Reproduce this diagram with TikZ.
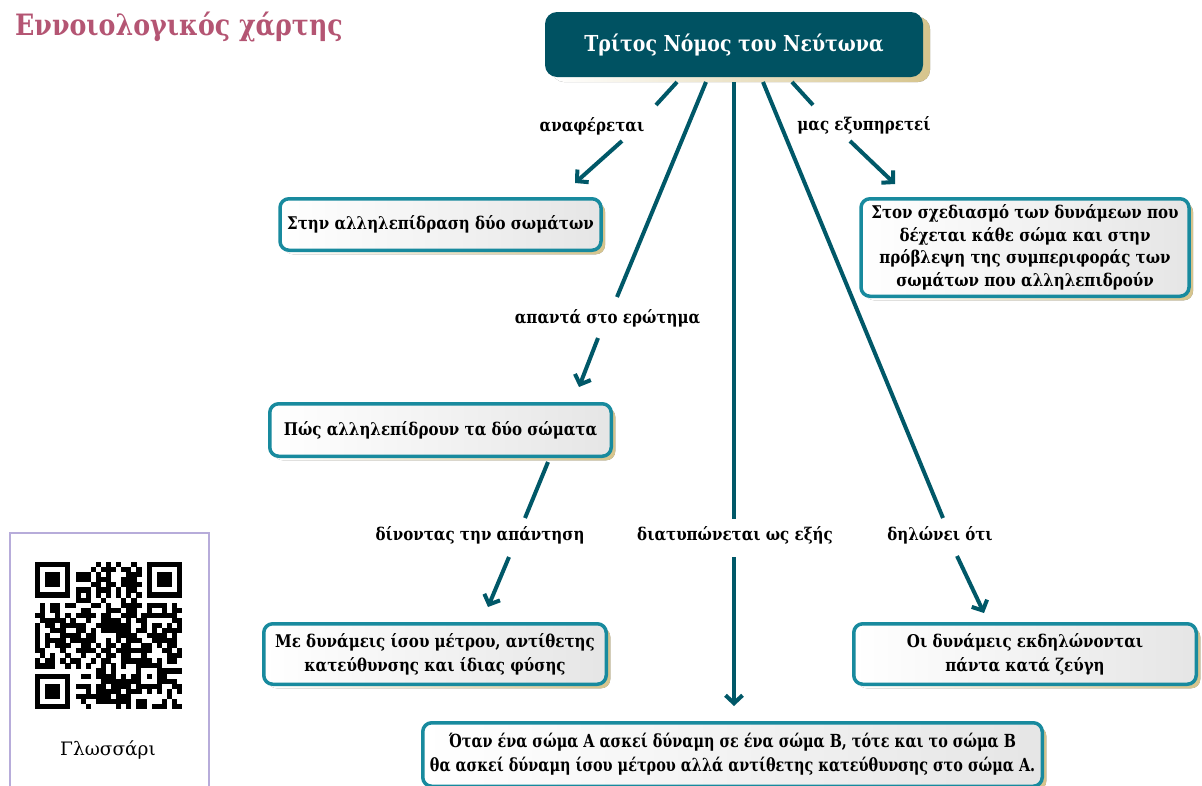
\documentclass[tikz,border=0pt]{standalone}
\usepackage{fontspec}
\setmainfont{DejaVu Serif}[FakeStretch=0.86]
\newfontfamily\plainfont{DejaVu Serif}
\newfontfamily\titlefont{DejaVu Serif}[FakeStretch=0.86]
\newfontfamily\condfont{DejaVu Serif}[FakeStretch=0.80]
\usetikzlibrary{arrows.meta,shadows}
\definecolor{topfill}{RGB}{0,82,98}
\definecolor{edgecol}{RGB}{0,88,104}
\definecolor{boxteal}{RGB}{24,138,158}
\definecolor{shadowgold}{RGB}{214,196,140}
\definecolor{titlepink}{RGB}{180,85,115}
\definecolor{lavender}{RGB}{183,172,218}
\begin{document}
\begin{tikzpicture}[x=1pt,y=-1pt,
  conbox/.style={rectangle, rounded corners=9pt, draw=boxteal, line width=3.5pt,
    left color=white, right color=black!10, align=center, inner sep=0pt,
    font=\bfseries\fontsize{17.5}{22.5}\selectfont,
    drop shadow={shadow xshift=4pt,shadow yshift=-4pt,opacity=1,left color=white,right color=shadowgold}},
  lab/.style={font=\bfseries\fontsize{17.5}{20}\selectfont, inner sep=1pt},
  link/.style={draw=edgecol, line width=4pt},
  linkarrow/.style={link, -{Straight Barb[length=8pt,width=17pt]}}
]
\useasboundingbox (0,0) rectangle (1202,785);
\clip (0,0) rectangle (1202,785);
\fill[white] (0,0) rectangle (1202,785);

% title
\node[anchor=base west, inner sep=0pt, text=titlepink, font=\titlefont\bfseries\fontsize{29.4}{33}\selectfont] (title) at (15,35) {Εννοιολογικός χάρτης};

% top node
\node[fill=topfill, rounded corners=12pt, minimum width=378pt, minimum height=65pt, inner sep=0pt,
  text=white, font=\bfseries\fontsize{22}{25}\selectfont,
  drop shadow={shadow xshift=7pt,shadow yshift=-5pt,opacity=1,left color=white,right color=shadowgold}]
  (top) at (734,44.5) {Τρίτος Νόμος του Νεύτωνα};

% boxes
\node[conbox, minimum width=321pt, minimum height=51.5pt] (b1) at (440.5,224.5) {Στην αλληλεπίδραση δύο σωμάτων};
\node[conbox, minimum width=328pt, minimum height=97.5pt] (b2) at (1025,247.5) {Στον σχεδιασμό των δυνάμεων που\\δέχεται κάθε σώμα και στην\\πρόβλεψη της συμπεριφοράς των\\σωμάτων που αλληλεπιδρούν};
\node[conbox, minimum width=341.5pt, minimum height=52.5pt] (b3) at (440.5,430) {Πώς αλληλεπίδρουν τα δύο σώματα};
\node[conbox, minimum width=342.5pt, minimum height=60.5pt, font=\bfseries\fontsize{17.5}{24}\selectfont] (b4) at (435,654) {Με δυνάμεις ίσου μέτρου, αντίθετης\\κατεύθυνσης και ίδιας φύσης};
\node[conbox, minimum width=342.5pt, minimum height=60.5pt, font=\bfseries\fontsize{17.5}{24}\selectfont] (b5) at (1025,654) {Οι δυνάμεις εκδηλώνονται\\πάντα κατά ζεύγη};
\node[conbox, minimum width=619.5pt, minimum height=63.5pt, font=\condfont\bfseries\fontsize{18}{24}\selectfont] (b6) at (732.5,754.5) {Όταν ένα σώμα Α ασκεί δύναμη σε ένα σώμα Β, τότε και το σώμα Β\\θα ασκεί δύναμη ίσου μέτρου αλλά αντίθετης κατεύθυνσης στο σώμα Α.};

% labels
\node[lab] (l1) at (592,126) {αναφέρεται};
\node[lab] (l2) at (607.5,318) {απαντά στο ερώτημα};
\node[lab] (l3) at (480,535) {δίνοντας την απάντηση};
\node[lab] (l4) at (735,535) {διατυπώνεται ως εξής};
\node[lab] (l5) at (940,535) {δηλώνει ότι};
\node[lab] (l6) at (864,125) {μας εξυπηρετεί};

% connector points
\coordinate (s1) at (677,82);  \coordinate (m1) at (656,105);
\coordinate (n1) at (622,141); \coordinate (t1) at (575,183);
\coordinate (s2) at (706,82);  \coordinate (m2) at (617,297);
\coordinate (n2) at (598,338); \coordinate (t2) at (579,387);
\coordinate (s3) at (548,462); \coordinate (m3) at (525,518);
\coordinate (n3) at (509,557); \coordinate (t3) at (488,607);
\coordinate (s4) at (734,82);  \coordinate (m4) at (734,519);
\coordinate (n4) at (734,557); \coordinate (t4) at (734,706);
\coordinate (s5) at (763,82);  \coordinate (m5) at (943,518);
\coordinate (n5) at (957,556); \coordinate (t5) at (984,613);
\coordinate (s6) at (792,82);  \coordinate (m6) at (813,105);
\coordinate (n6) at (850,141); \coordinate (t6) at (895,184);

\foreach \k in {1,...,6}{
  \draw[link] (s\k) -- (m\k);
  \draw[linkarrow] (n\k) -- (t\k);
}

% glossary
\draw[lavender, line width=2.5pt] (10,800) -- (10,533) -- (209,533) -- (209,800);
\node[font=\plainfont\fontsize{18.5}{22}\selectfont, inner sep=0pt] (gl) at (108,750) {Γλωσσάρι};

% QR code
\def\qm{5.07}
\pgfmathsetseed{7}
\foreach \i in {0,...,28}{
  \foreach \j in {0,...,28}{
    \pgfmathtruncatemacro{\infd}{((\i<8)&&(\j<8))||((\i>20)&&(\j<8))||((\i<8)&&(\j>20))||((\i>19)&&(\i<25)&&(\j>19)&&(\j<25))}
    \pgfmathtruncatemacro{\bit}{((\i==6)||(\j==6)) ? (mod(\i+\j,2)==0) : (rnd<0.55)}
    \ifnum\infd=0 \ifnum\bit=1
      \fill[black] (35+\i*\qm,562+\j*\qm) rectangle ++(5.2,5.2);
    \fi\fi
  }
}
\foreach \a/\b in {0/0,22/0,0/22}{
  \fill[black] (35+\a*\qm,562+\b*\qm) rectangle ++(7*\qm,7*\qm);
  \fill[white] (35+\a*\qm+\qm,562+\b*\qm+\qm) rectangle ++(5*\qm,5*\qm);
  \fill[black] (35+\a*\qm+2*\qm,562+\b*\qm+2*\qm) rectangle ++(3*\qm,3*\qm);
}
\fill[black] (35+20*\qm,562+20*\qm) rectangle ++(5*\qm,5*\qm);
\fill[white] (35+21*\qm,562+21*\qm) rectangle ++(3*\qm,3*\qm);
\fill[black] (35+22*\qm,562+22*\qm) rectangle ++(\qm,\qm);
\end{tikzpicture}
\end{document}
